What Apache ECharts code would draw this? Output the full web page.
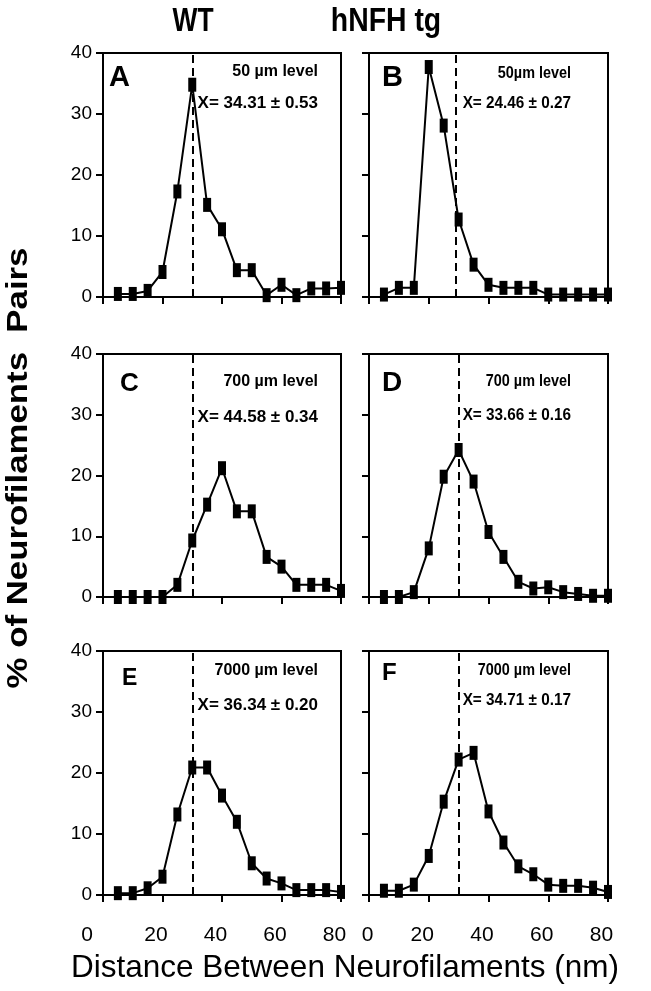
<!DOCTYPE html>
<html>
<head>
<meta charset="utf-8">
<script src="https://cdn.jsdelivr.net/npm/echarts@6/dist/echarts.min.js"></script>
<style>html,body{margin:0;padding:0;background:#fff}#c{width:651px;height:991px}</style>
</head>
<body>
<div id="c"></div>
<script>
// ---- data ----
const distances = [5, 10, 15, 20, 25, 30, 35, 40, 45, 50, 55, 60, 65, 70, 75, 80];
const wt50   = [0.5, 0.5, 1.0, 4.1, 17.3, 34.8, 15.1, 11.1, 4.4, 4.4, 0.3, 2.0, 0.3, 1.4, 1.4, 1.5];
const tg50   = [0.4, 1.5, 1.5, 37.7, 28.1, 12.7, 5.3, 2.0, 1.5, 1.5, 1.5, 0.4, 0.4, 0.4, 0.4, 0.4];
const wt700  = [0, 0, 0, 0, 2.0, 9.3, 15.2, 21.2, 14.1, 14.1, 6.6, 5.0, 2.0, 2.0, 2.0, 1.0];
const tg700  = [0, 0, 0.8, 8.0, 19.8, 24.2, 19.0, 10.7, 6.6, 2.5, 1.4, 1.6, 0.8, 0.5, 0.2, 0.2];
const wt7000 = [0.3, 0.3, 1.1, 3.0, 13.2, 20.9, 20.9, 16.3, 12.0, 5.2, 2.7, 1.9, 0.8, 0.8, 0.8, 0.5];
const tg7000 = [0.7, 0.7, 1.7, 6.4, 15.3, 22.2, 23.3, 13.7, 8.6, 4.7, 3.4, 1.7, 1.5, 1.5, 1.2, 0.5];
const refLines = [30, 29, 30, 30, 30, 30];
const panelLetters = ['A', 'B', 'C', 'D', 'E', 'F'];
const levelTexts = ['50 µm level', '50µm level', '700 µm level', '700 µm level', '7000 µm level', '7000 µm level'];
const meanTexts = ['X= 34.31 ± 0.53', 'X= 24.46 ± 0.27', 'X= 44.58 ± 0.34', 'X= 33.66 ± 0.16', 'X= 36.34 ± 0.20', 'X= 34.71 ± 0.17'];
const columnTitles = ['WT', 'hNFH tg'];
const xTicks = [0, 20, 40, 60, 80];
const yTicks = [0, 10, 20, 30, 40];
const yTitle = '% of Neurofilaments  Pairs';
const xTitle = 'Distance Between Neurofilaments (nm)';

const seriesData = [wt50, tg50, wt700, tg700, wt7000, tg7000];

// ---- layout ----
const FONT = '"Liberation Sans", Arial, Helvetica, sans-serif';
const colLeft = [103, 369];
const colWidth = [238, 239];
const rowTop = [53, 354, 651];
const rowHeight = [244, 243, 244];
const colTextScale = [1, 0.9];
// per-panel annotation placement: [letterDx, letterCapTop, letterSize, textRightInset, levelDy, meanDy]
const annot = [
  [6, 15, 29, 23, 19, 50],
  [13, 15, 29, 37, 21, 50],
  [17, 21, 26, 23, 28, 63],
  [13, 19, 28, 37, 28, 61],
  [19, 19, 23, 23, 20, 54],
  [13, 14, 24, 37, 20, 49]
];

const grids = [], xAxes = [], yAxes = [], series = [], graphics = [];

for (let i = 0; i < 6; i++) {
  const col = i % 2, row = Math.floor(i / 2);
  grids.push({
    left: colLeft[col], top: rowTop[row], width: colWidth[col], height: rowHeight[row],
    show: true, borderColor: '#000', borderWidth: 2, backgroundColor: 'transparent', containLabel: false
  });
  const showX = row === 2;
  xAxes.push({
    gridIndex: i, type: 'value', min: xTicks[0], max: xTicks[xTicks.length - 1], interval: 20,
    position: 'bottom', offset: 5,
    axisLine: { show: false },
    axisTick: { show: true, length: 7, lineStyle: { color: '#000', width: 2 } },
    splitLine: { show: false },
    axisLabel: {
      show: showX, margin: 25, color: '#000',
      formatter: function (v) {
        if (v === 0) return col === 0 ? '{z|0}' : '{o|0}';
        return '{n|' + v + '}';
      },
      rich: {
        z: { fontSize: 21, fontFamily: FONT, color: '#000', padding: [0, 32, 0, 0] },
        o: { fontSize: 21, fontFamily: FONT, color: '#000', padding: [0, 3, 0, 0] },
        n: { fontSize: 21, fontFamily: FONT, color: '#000', padding: [0, 13, 0, 0] }
      }
    }
  });
  yAxes.push({
    gridIndex: i, type: 'value', min: yTicks[0], max: yTicks[yTicks.length - 1], interval: 10,
    axisLine: { show: false },
    axisTick: { show: true, length: 7, lineStyle: { color: '#000', width: 2 } },
    splitLine: { show: false },
    axisLabel: { show: col === 0, margin: 11, fontSize: 19, fontFamily: FONT, color: '#000' }
  });
  series.push({
    type: 'line', xAxisIndex: i, yAxisIndex: i,
    data: distances.map((d, k) => [d, seriesData[i][k]]),
    symbol: 'rect', symbolSize: [8, 14], clip: false,
    lineStyle: { color: '#000', width: 2 },
    itemStyle: { color: '#000' },
    animation: false,
    markLine: {
      silent: true, symbol: 'none', label: { show: false },
      lineStyle: { color: '#000', width: 2, type: [8, 5] },
      data: [{ xAxis: refLines[i] }]
    }
  });
  // panel annotations
  const a = annot[i];
  const gl = colLeft[col], gt = rowTop[row], gr = colLeft[col] + colWidth[col];
  const capH = a[2] * 0.716;
  graphics.push({
    type: 'text', x: gl + a[0], y: gt + a[1] + capH / 2,
    style: { text: panelLetters[i], fontSize: a[2], fontWeight: 'bold', fontFamily: FONT, fill: '#000', align: 'left', verticalAlign: 'middle' }
  });
  graphics.push({
    type: 'text', x: gr - a[3], y: gt + a[4], scaleX: colTextScale[col],
    style: { text: levelTexts[i], fontSize: 16, fontWeight: 'bold', fontFamily: FONT, fill: '#000', align: 'right', verticalAlign: 'middle' }
  });
  graphics.push({
    type: 'text', x: gr - a[3], y: gt + a[5], scaleX: colTextScale[col],
    style: { text: meanTexts[i], fontSize: 17, fontWeight: 'bold', fontFamily: FONT, fill: '#000', align: 'right', verticalAlign: 'middle' }
  });
}

// column titles
graphics.push({ type: 'text', x: 193, y: 22, scaleX: 0.8,
  style: { text: columnTitles[0], fontSize: 33, fontWeight: 'bold', fontFamily: FONT, fill: '#000', align: 'center', verticalAlign: 'middle' } });
graphics.push({ type: 'text', x: 386, y: 22, scaleX: 0.86,
  style: { text: columnTitles[1], fontSize: 33, fontWeight: 'bold', fontFamily: FONT, fill: '#000', align: 'center', verticalAlign: 'middle' } });
// y title
graphics.push({ type: 'text', x: 19, y: 468, rotation: Math.PI / 2, scaleX: 1.2,
  style: { text: yTitle, fontSize: 29, fontWeight: 'bold', fontFamily: FONT, fill: '#000', align: 'center', verticalAlign: 'middle' } });
// x title
graphics.push({ type: 'text', x: 345, y: 968,
  style: { text: xTitle, fontSize: 31.5, fontFamily: FONT, fill: '#000', align: 'center', verticalAlign: 'middle' } });

const chart = echarts.init(document.getElementById('c'), null, { renderer: 'canvas' });
chart.setOption({
  animation: false,
  backgroundColor: '#fff',
  grid: grids, xAxis: xAxes, yAxis: yAxes, series: series, graphic: graphics
});
</script>
</body>
</html>
